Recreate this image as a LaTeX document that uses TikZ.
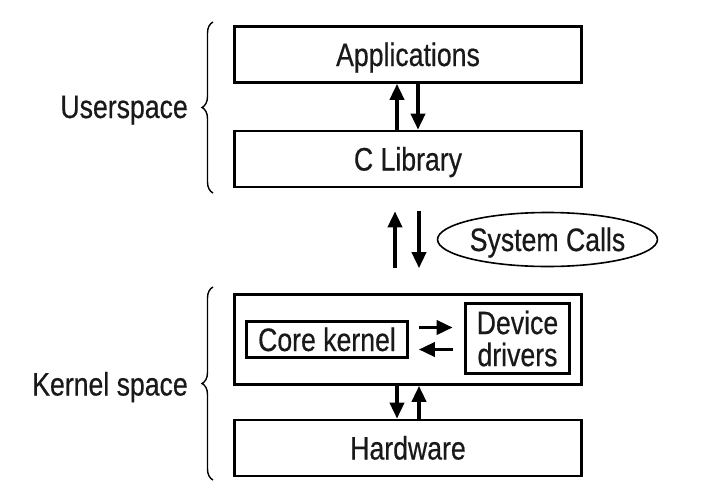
\documentclass[tikz,border=0pt]{standalone}
\usepackage{fontspec}
\setmainfont{Liberation Sans}[FakeStretch=0.82,FakeBold=0.5]
\usetikzlibrary{shapes.geometric,arrows.meta,decorations.pathreplacing}
\tikzset{
  capc/.style={text height=23pt, text depth=0pt},
  layer/.style={draw, line width=2.6pt, minimum width=347pt, minimum height=56pt, inner sep=0pt, capc},
  inbox/.style={draw, line width=2.6pt, inner sep=0pt},
  arr/.style={line width=3.6pt, -{Triangle[length=16pt,width=14pt]}},
  brc/.style={decorate, decoration={brace, amplitude=11pt}, line width=1.4pt},
  lbl/.style={anchor=east, inner sep=0pt, capc},
  every node/.style={font=\fontsize{32.5}{32}\selectfont, text=black!90}
}
\begin{document}
\begin{tikzpicture}[x=1pt,y=-1pt]
\useasboundingbox (0,0) rectangle (710,493);
\node[layer] (app) at (408,54.5) {Applications};
\node[layer] (clib) at (408,159) {C Library};
\node[layer, minimum height=90pt] (kern) at (408,339.5) {};
\node[layer] (hw) at (408,448) {Hardware};
\node[inbox, capc, minimum width=161pt, minimum height=36pt] (core) at (327,339.5) {Core kernel};
\node[inbox, line width=3.6pt, minimum width=104pt, minimum height=70pt, align=center] (drv) at (517.5,338.5) {Device\\drivers};
\node[ellipse, draw, capc, line width=1.6pt, minimum width=210pt, minimum height=54pt, inner sep=0pt] (sys) at (547.5,239.5) {System Calls};
% arrows app / clib
\draw[arr] ([xshift=-11pt]clib.north) -- ([xshift=-11pt]app.south);
\draw[arr] ([xshift=10pt]app.south) -- ([xshift=10pt]clib.north);
% system call arrows
\draw[arr, shorten <=25pt, shorten >=23pt] ([xshift=-13pt]kern.north) -- ([xshift=-13pt]clib.south);
\draw[arr, shorten <=23pt, shorten >=25pt] ([xshift=11pt]clib.south) -- ([xshift=11pt]kern.north);
% kernel / hardware
\draw[arr] ([xshift=-11pt]kern.south) -- ([xshift=-11pt]hw.north);
\draw[arr] ([xshift=11pt]hw.north) -- ([xshift=11pt]kern.south);
% core / drivers
\draw[arr, shorten <=10pt, shorten >=11pt] ([yshift=12pt]core.east) -- ([yshift=12pt]core.east -| drv.west);
\draw[arr, shorten <=11pt, shorten >=10pt] ([yshift=-10pt]core.east -| drv.west) -- ([yshift=-10pt]core.east);
% braces
\coordinate (ub) at (213,193);
\coordinate (ut) at (213,22);
\coordinate (kb) at (213,480);
\coordinate (kt) at (213,287);
\draw[brc] (ub) -- (ut);
\draw[brc] (kb) -- (kt);
\node[lbl] (us) at (188,106.5) {Userspace};
\node[lbl] (ks) at (188,384) {Kernel space};
\end{tikzpicture}
\end{document}
